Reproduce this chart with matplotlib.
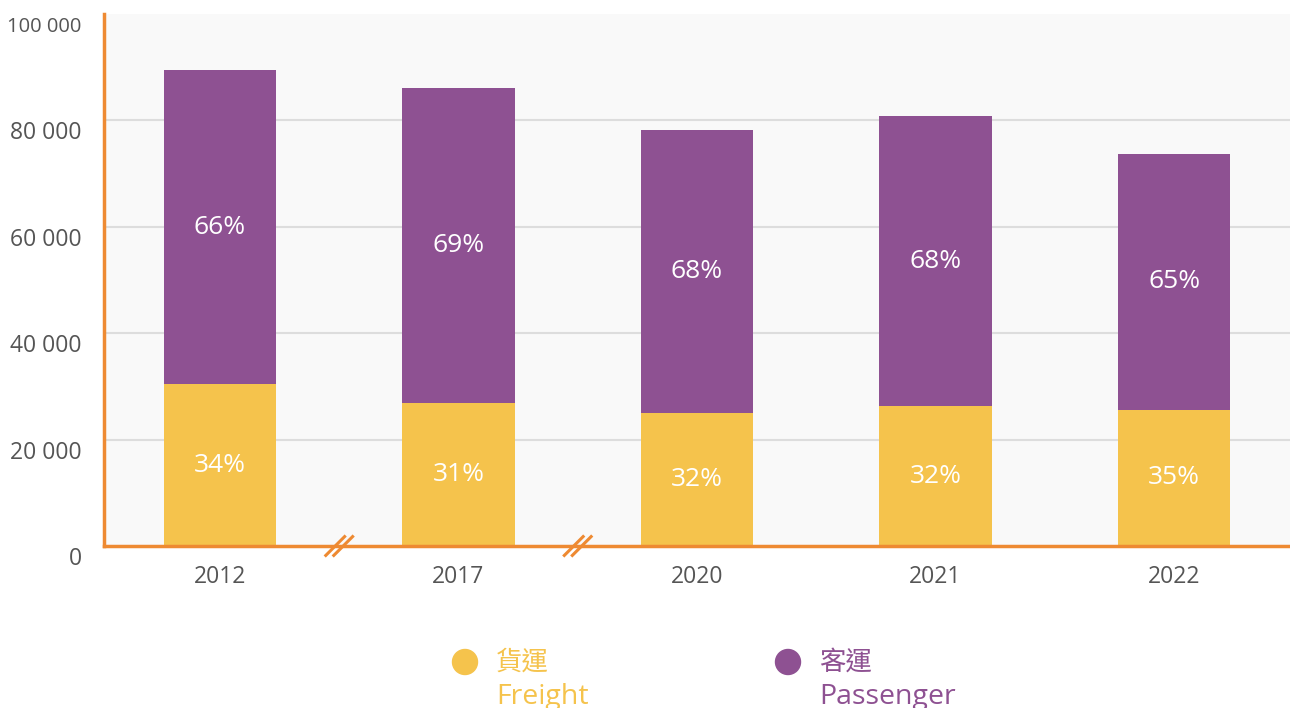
import matplotlib
matplotlib.use("Agg")
import matplotlib.pyplot as plt
import matplotlib.transforms as mtransforms
from matplotlib.patches import Circle
from matplotlib.lines import Line2D

plt.rcParams['font.family'] = ['Open Sans', 'Noto Sans CJK TC', 'DejaVu Sans']

# Data
years = ['2012', '2017', '2020', '2021', '2022']
freight = [30400, 26900, 25000, 26300, 25600]
passenger = [59050, 59200, 53200, 54500, 48100]
freight_pct = ['34%', '31%', '32%', '32%', '35%']
passenger_pct = ['66%', '69%', '68%', '68%', '65%']
y_ticks = [0, 20000, 40000, 60000, 80000, 100000]
y_tick_labels = ['0', '20 000', '40 000', '60 000', '80 000', '100 000']
legend_cn = ['貨運', '客運']
legend_en = ['Freight', 'Passenger']

YELLOW = '#F5C34C'
PURPLE = '#8E5192'
ORANGE = '#EE8A32'
GRID = '#DDDDDD'
TEXT = '#555555'

fig = plt.figure(figsize=(12.9, 7.08), dpi=100)
ax = fig.add_axes([104 / 1290, 1 - 546 / 708, 1 - 104 / 1290, (546 - 14) / 708])
ax.set_facecolor('#F9F9F9')

x = list(range(len(years)))
width = 0.47
ax.bar(x, freight, width, color=YELLOW, zorder=3)
ax.bar(x, passenger, width, bottom=freight, color=PURPLE, zorder=3)

for i in x:
    ax.text(i, freight[i] / 2, freight_pct[i], ha='center', va='center',
            color='white', fontsize=19, zorder=4)
    ax.text(i, freight[i] + passenger[i] / 2, passenger_pct[i], ha='center',
            va='center', color='white', fontsize=19, zorder=4)

ax.set_xlim(-0.486, 4.486)
ax.set_ylim(0, 100000)
for yv in y_ticks[1:-1]:
    ax.axhline(yv, color=GRID, linewidth=1.5, zorder=0)
ax.set_yticks(y_ticks)
ax.set_yticklabels(y_tick_labels)
ax.set_xticks(x)
ax.set_xticklabels(years)
ax.tick_params(axis='both', length=0, colors=TEXT, labelsize=16.5)
ax.tick_params(axis='y', pad=16)
ax.tick_params(axis='x', pad=14)

# shift y tick labels slightly below their gridlines
shift = mtransforms.ScaledTranslation(0, -10 / 100, fig.dpi_scale_trans)
for lab in ax.get_yticklabels():
    lab.set_transform(lab.get_transform() + shift)
    if lab.get_text() == '100 000':
        lab.set_fontsize(14.5)

for side in ['top', 'right']:
    ax.spines[side].set_visible(False)
for side in ['left', 'bottom']:
    ax.spines[side].set_color(ORANGE)
    ax.spines[side].set_linewidth(2.5)
    ax.spines[side].set_zorder(5)

# axis-break marks between non-consecutive years
fig.canvas.draw()
to_fig = fig.transFigure.inverted()
for xb in [0.5, 1.5]:
    cx, cy = ax.transData.transform((xb, 0))
    for dx in (-4, 4):
        p0 = to_fig.transform((cx + dx - 10.5, cy - 10.5))
        p1 = to_fig.transform((cx + dx + 10.5, cy + 10.5))
        fig.add_artist(Line2D([p0[0], p1[0]], [p0[1], p1[1]],
                              transform=fig.transFigure, color=ORANGE,
                              linewidth=2.2, solid_capstyle='butt', zorder=6))

# legend
legend_items = [(465, YELLOW, legend_cn[0], legend_en[0]),
                (788, PURPLE, legend_cn[1], legend_en[1])]
for px, col, cn, en in legend_items:
    fig.add_artist(Circle((px / 100, (708 - 662) / 100), 0.125,
                          transform=fig.dpi_scale_trans, color=col))
    fig.text((px + 31) / 1290, 1 - 663 / 708, cn, color=col, fontsize=19,
             ha='left', va='center')
    fig.text((px + 31) / 1290, 1 - 697 / 708, en, color=col, fontsize=20.5,
             ha='left', va='center')

fig.savefig('out.png', dpi=100, facecolor='white')
